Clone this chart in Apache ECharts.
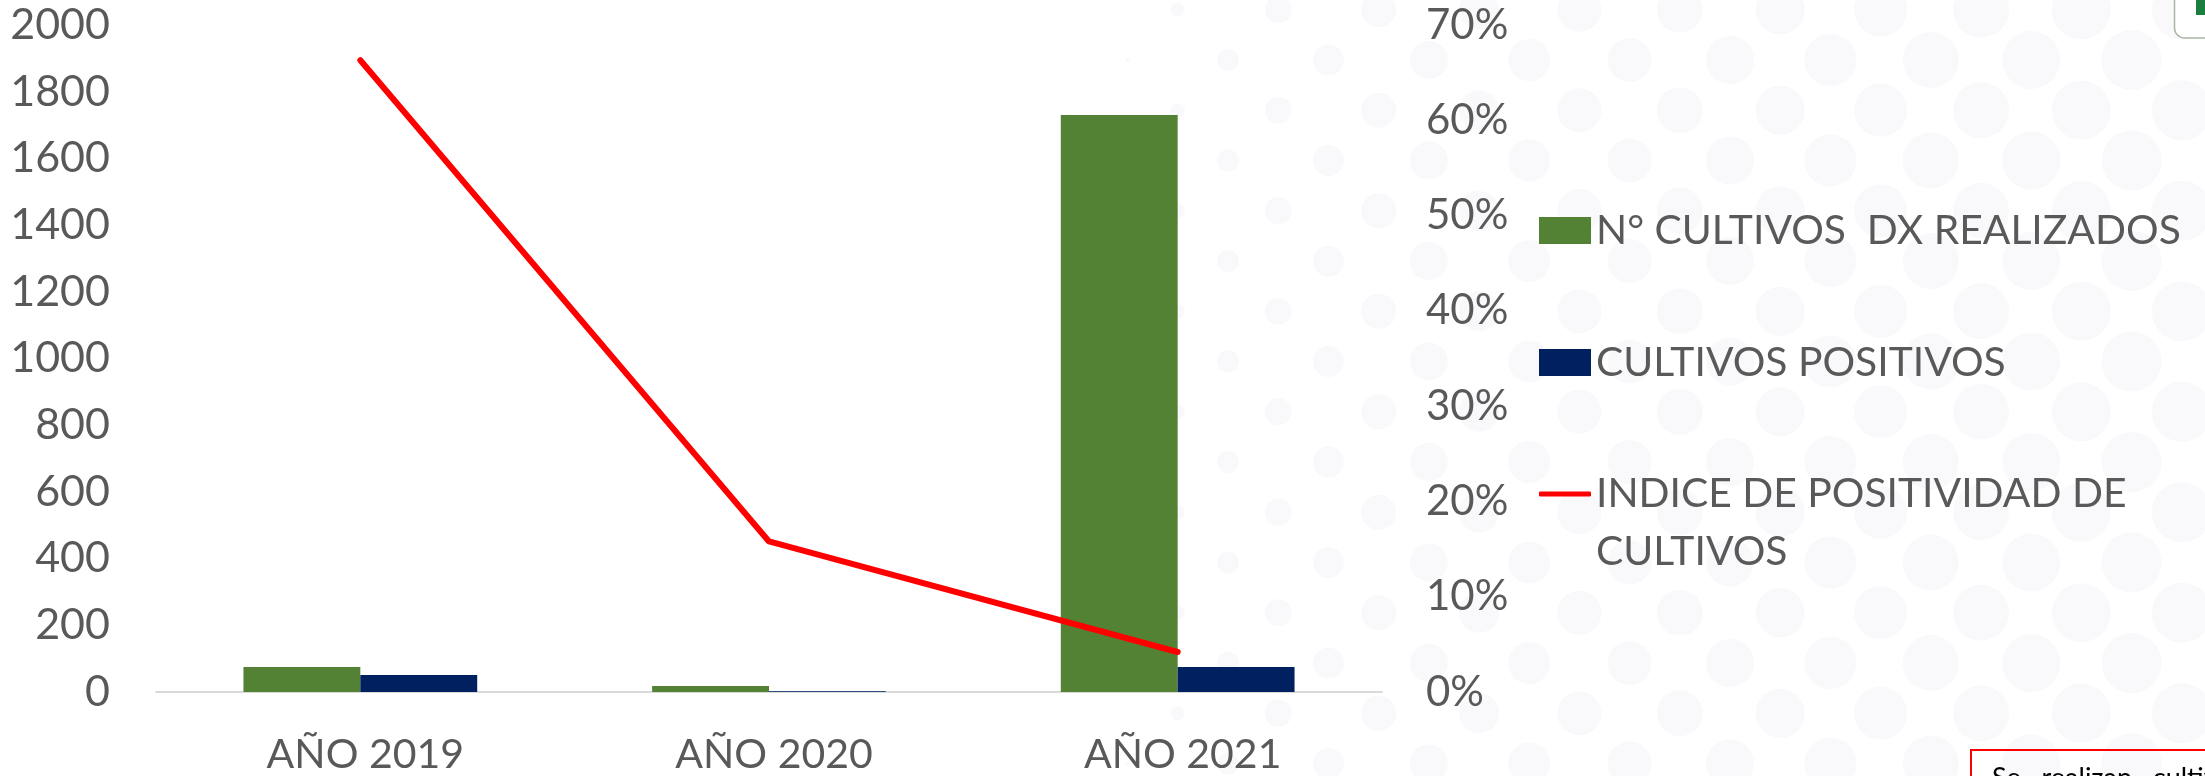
<!DOCTYPE html>
<html><head><meta charset="utf-8">
<style>html,body{margin:0;padding:0;background:#fff}#c{width:2205px;height:776px}</style>
<script src="https://cdn.jsdelivr.net/npm/echarts@6/dist/echarts.min.js"></script>
</head><body><div id="c"></div>
<script>
const categories = ['AÑO 2019', 'AÑO 2020', 'AÑO 2021'];
const cultivosDx = [75, 18, 1730];
const cultivosPositivos = [51, 2, 75];
const indicePositividad = [0.663, 0.158, 0.042];
const nameDx = 'N° CULTIVOS  DX REALIZADOS';
const namePos = 'CULTIVOS POSITIVOS';
const nameIdx = 'INDICE DE POSITIVIDAD DE CULTIVOS';
const FONT = 'Lato';
const GREY = '#595959';

// decorative dotted backdrop: radius by column (x = 1730 + 50.2*col)
const dotRadii = {'-12':2,'-11':7,'-10':11,'-9':13.5,'-8':15.5,'-7':17.5,'-6':19,'-5':20,'-4':21,'-3':22,'-2':22,'-1':23,'0':24,'1':24.5,'2':26,'3':26.5,'4':28,'5':28,'6':29,'7':29.5,'8':30,'9':30};
const dots = [];
for (let col = -12; col <= 9; col++) {
  for (let k = -1; k <= 14; k++) {
    if ((col + k) % 2 !== 0) continue;
    dots.push({type:'circle', silent:true, z:0, x:1730+50.2*col, y:60+50.25*k,
      shape:{r:dotRadii[col]}, style:{fill:'#f9f9fb'}});
  }
}
const legendBase = {orient:'vertical', left:1539, padding:0, itemWidth:52, itemHeight:27, icon:'rect',
  selectedMode:false, textStyle:{color:GREY, fontFamily:FONT, fontSize:40.8}};
const chart = echarts.init(document.getElementById('c'), null, {renderer:'canvas'});
chart.setOption({
  animation:false,
  backgroundColor:'#ffffff',
  grid:{left:156, right:823, top:25, bottom:84},
  graphic:dots.concat([
    {type:'rect', silent:true, z:0, shape:{x:1971, y:750, width:260, height:60},
      style:{fill:'transparent', stroke:'#ff0000', lineWidth:2}},
    {type:'text', silent:true, z:1, x:1992, y:765,
      style:{text:'Se   realizan   cultivos', fill:'#000', fontFamily:FONT, fontSize:27}},
    {type:'rect', silent:true, z:0, shape:{x:2174.5, y:-30, width:60, height:68, r:10},
      style:{fill:'#fff', stroke:'#a9b5a4', lineWidth:1.5}},
    {type:'rect', silent:true, z:1, shape:{x:2196, y:0, width:12, height:15}, style:{fill:'#1a7f3e'}}
  ]),
  legend:[
    Object.assign({}, legendBase, {top:210, data:[nameDx]}),
    Object.assign({}, legendBase, {top:342, data:[namePos]}),
    Object.assign({}, legendBase, {top:407, itemHeight:5, icon:'roundRect', data:[nameIdx],
      formatter:()=>'\nINDICE DE POSITIVIDAD DE\nCULTIVOS',
      textStyle:{color:GREY, fontFamily:FONT, fontSize:40.8, lineHeight:58}})
  ],
  xAxis:{type:'category', data:categories,
    axisLine:{lineStyle:{color:'#d9d9d9', width:2}}, axisTick:{show:false},
    axisLabel:{color:GREY, fontFamily:FONT, fontSize:41, margin:42, padding:[0,0,0,10]}},
  yAxis:[
    {type:'value', min:0, max:2000, interval:200, splitLine:{show:false},
      axisLine:{show:false}, axisTick:{show:false},
      axisLabel:{color:GREY, fontFamily:FONT, fontSize:43, margin:46, formatter:v=>String(v)}},
    {type:'value', min:0, max:0.7, interval:0.1, position:'right', splitLine:{show:false},
      axisLine:{show:false}, axisTick:{show:false},
      axisLabel:{color:GREY, fontFamily:FONT, fontSize:42, margin:44,
        formatter:v=>Math.round(v*100)+'%'}}
  ],
  series:[
    {name:nameDx, type:'bar', data:cultivosDx, barGap:0, barCategoryGap:'42.8%', itemStyle:{color:'#548235'}},
    {name:namePos, type:'bar', data:cultivosPositivos, itemStyle:{color:'#002060'}},
    {name:nameIdx, type:'line', yAxisIndex:1, data:indicePositividad, symbol:'none', z:5,
      lineStyle:{color:'#ff0000', width:6, cap:'round'}, itemStyle:{color:'#ff0000'}}
  ]
});
</script></body></html>
